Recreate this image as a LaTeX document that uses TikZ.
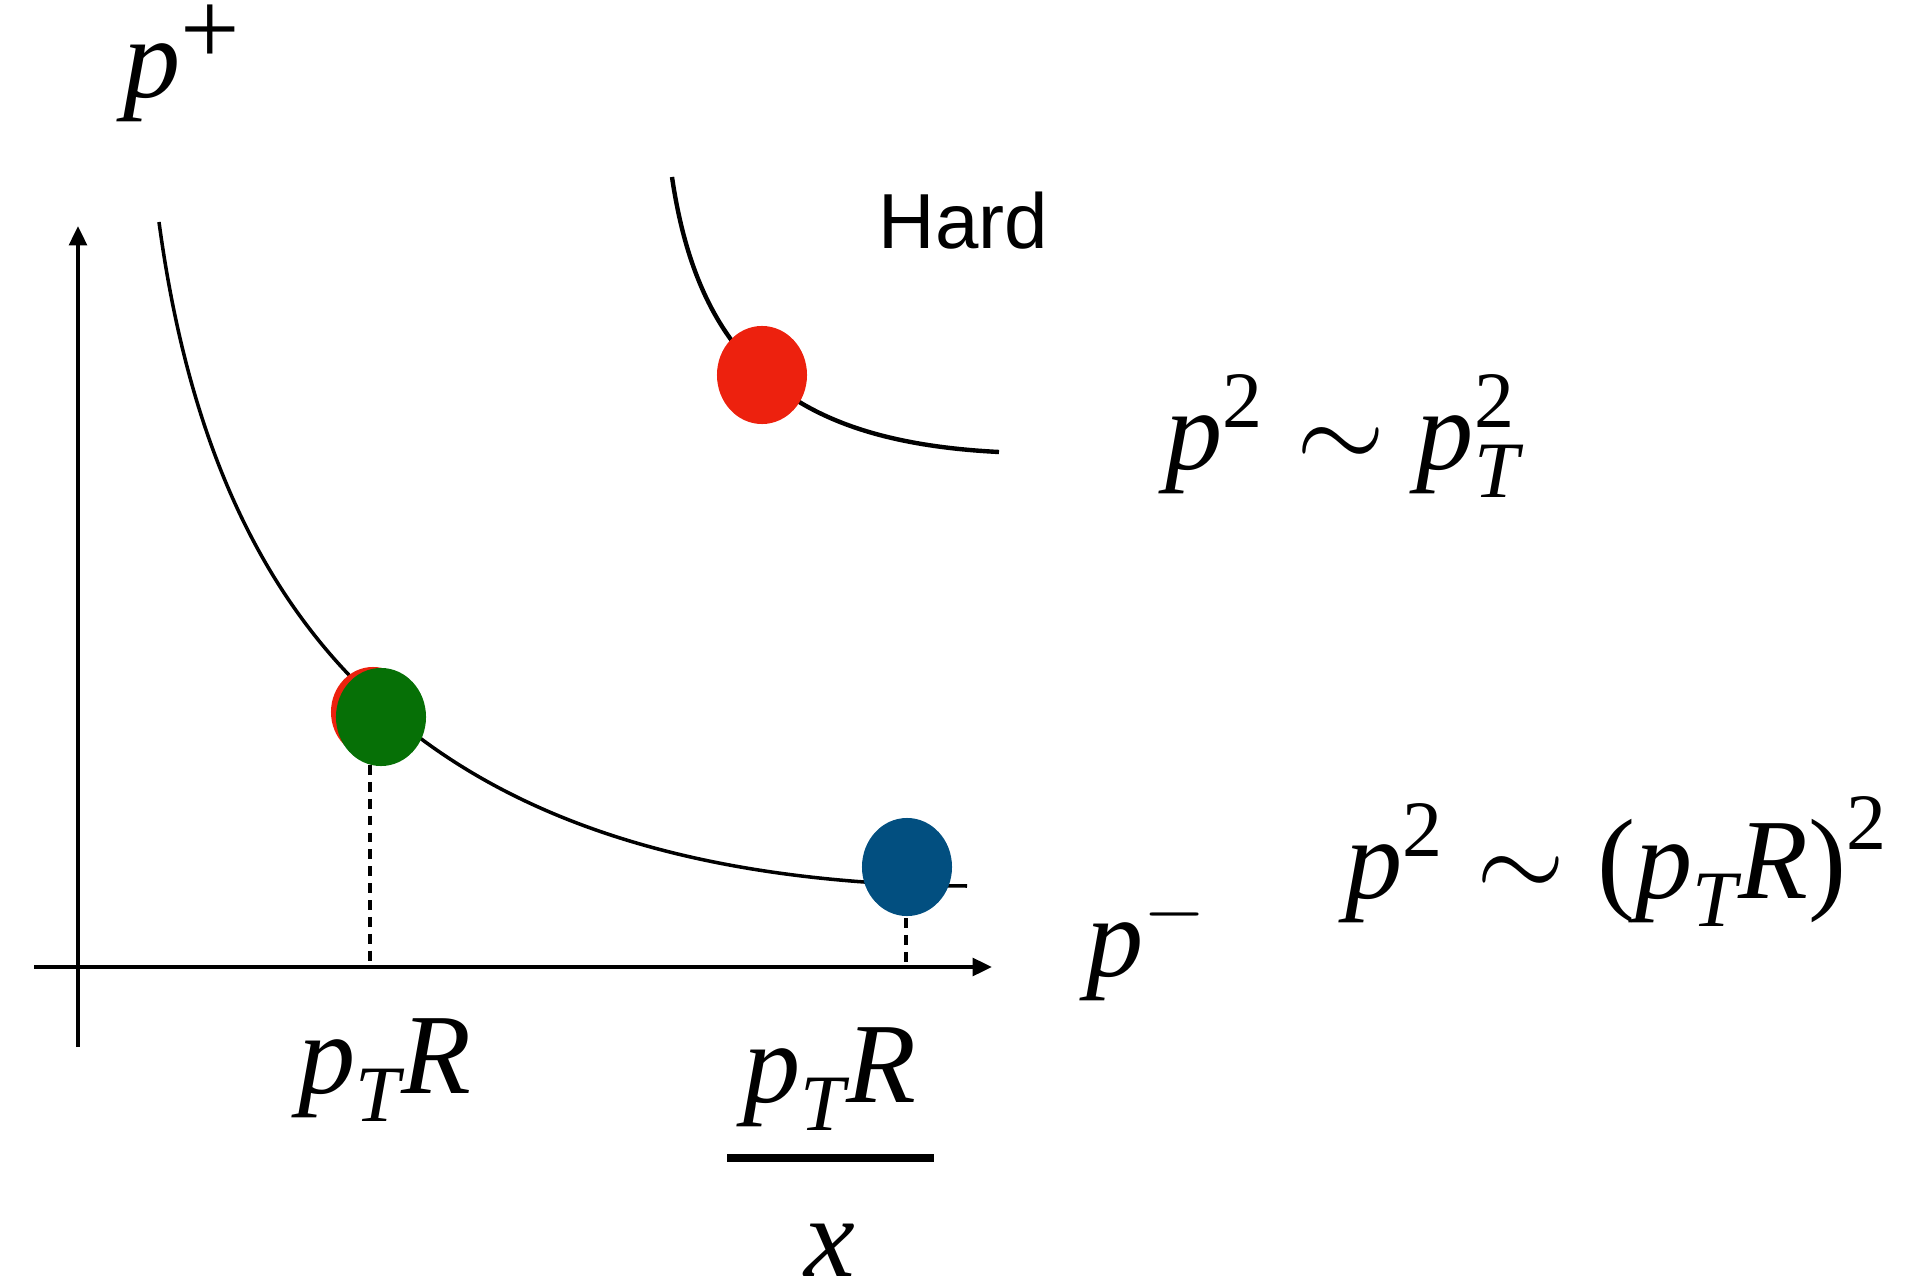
\documentclass[tikz,border=0pt]{standalone}
\usepackage{fix-cm}
\usepackage{amsmath}
\usepackage{fontspec}
\setmainfont{Liberation Serif}
\newfontfamily\hardfont{Liberation Sans}
\usetikzlibrary{arrows.meta,shapes.geometric}
\newcommand\mvar[1]{\text{\itshape #1}}
\newcommand\mnum[1]{\text{#1}}
\newcommand\bigplus{\text{\fontsize{30}{30}\selectfont\raisebox{-0.08em}{+}}}
\definecolor{dotred}{RGB}{237,33,14}
\definecolor{dotgreen}{RGB}{6,112,6}
\definecolor{dotblue}{RGB}{2,79,128}
\tikzset{
  mathlbl/.style={inner sep=0pt, font=\fontsize{32.5}{38}\selectfont},
  hardlbl/.style={inner sep=0pt, font=\hardfont\fontsize{22.2}{26}\selectfont},
  axisline/.style={line width=1.1pt, -{Triangle[length=5.5pt,width=5pt]}},
  thincurve/.style={line width=1pt},
  thickcurve/.style={line width=1.25pt},
  dashline/.style={line width=0.9pt, dash pattern=on 2.8pt off 2pt},
  dotmark/.style={ellipse, draw=none, inner sep=0pt, minimum width=0.9cm, minimum height=0.98cm},
}
\begin{document}
\begin{tikzpicture}[x=0.01cm,y=-0.01cm]
\useasboundingbox (0,0) rectangle (1920,1282);
% axes
\coordinate (xs) at (34,967);
\coordinate (xe) at (992,967);
\coordinate (ys) at (78,1047);
\coordinate (ye) at (78,226);
\draw[axisline] (xs) -- (xe);
\draw[axisline] (ys) -- (ye);
% curves
\coordinate (mainstart) at (159,222);
\coordinate (mainend) at (967,886);
\draw[thincurve] (mainstart) .. controls (214,630) and (425,882) .. (mainend);
\coordinate (hardstart) at (672,177);
\coordinate (hardend) at (999,452);
\draw[thickcurve] (hardstart) .. controls (700,368) and (800,442) .. (hardend);
% dashed guides
\coordinate (gtop) at (370,765);
\coordinate (gfoot) at (370,967);
\coordinate (btop) at (906,918);
\coordinate (bfoot) at (906,967);
\draw[dashline] (gtop) -- (gfoot);
\draw[dashline] (btop) -- (bfoot);
% dots
\node[dotmark, fill=dotred] (reddot) at (762,375) {};
\node[dotmark, fill=dotred, minimum width=0.84cm, minimum height=0.9cm] (redshadow) at (373,712) {};
\node[dotmark, fill=dotgreen] (greendot) at (381,717) {};
\node[dotmark, fill=dotblue] (bluedot) at (907,867) {};
% labels
\node[mathlbl, anchor=base west] (pplus) at (123,98) {$\mvar{p}^{\bigplus}$};
\node[hardlbl, anchor=base west] (hard) at (878,249) {Hard};
\node[mathlbl, anchor=base west] (hardrel) at (1165,469) {$\mvar{p}^{\mnum{2}}\sim\mvar{p}_{\mvar{T}}^{\mnum{2}}$};
\node[mathlbl, anchor=base west] (pminus) at (1086,976) {$\mvar{p}^{-}$};
\node[mathlbl, anchor=base west] (softrel) at (1345,898) {$\mvar{p}^{\mnum{2}}\sim\mnum{(}\mvar{p}_{\mvar{T}}\mvar{R}\mnum{)}^{\mnum{2}}$};
\node[mathlbl, anchor=base] (ptr) at (385,1093) {$\mvar{p}_{\mvar{T}}\mvar{R}$};
\node[mathlbl, anchor=base] (ptrnum) at (830,1102) {$\mvar{p}_{\mvar{T}}\mvar{R}$};
\coordinate (barl) at (727,1158);
\coordinate (barr) at (934,1158);
\draw[line width=2pt] (barl) -- (barr);
\node[mathlbl, anchor=base] (xden) at (830,1276) {$\mvar{x}$};
\end{tikzpicture}
\end{document}
